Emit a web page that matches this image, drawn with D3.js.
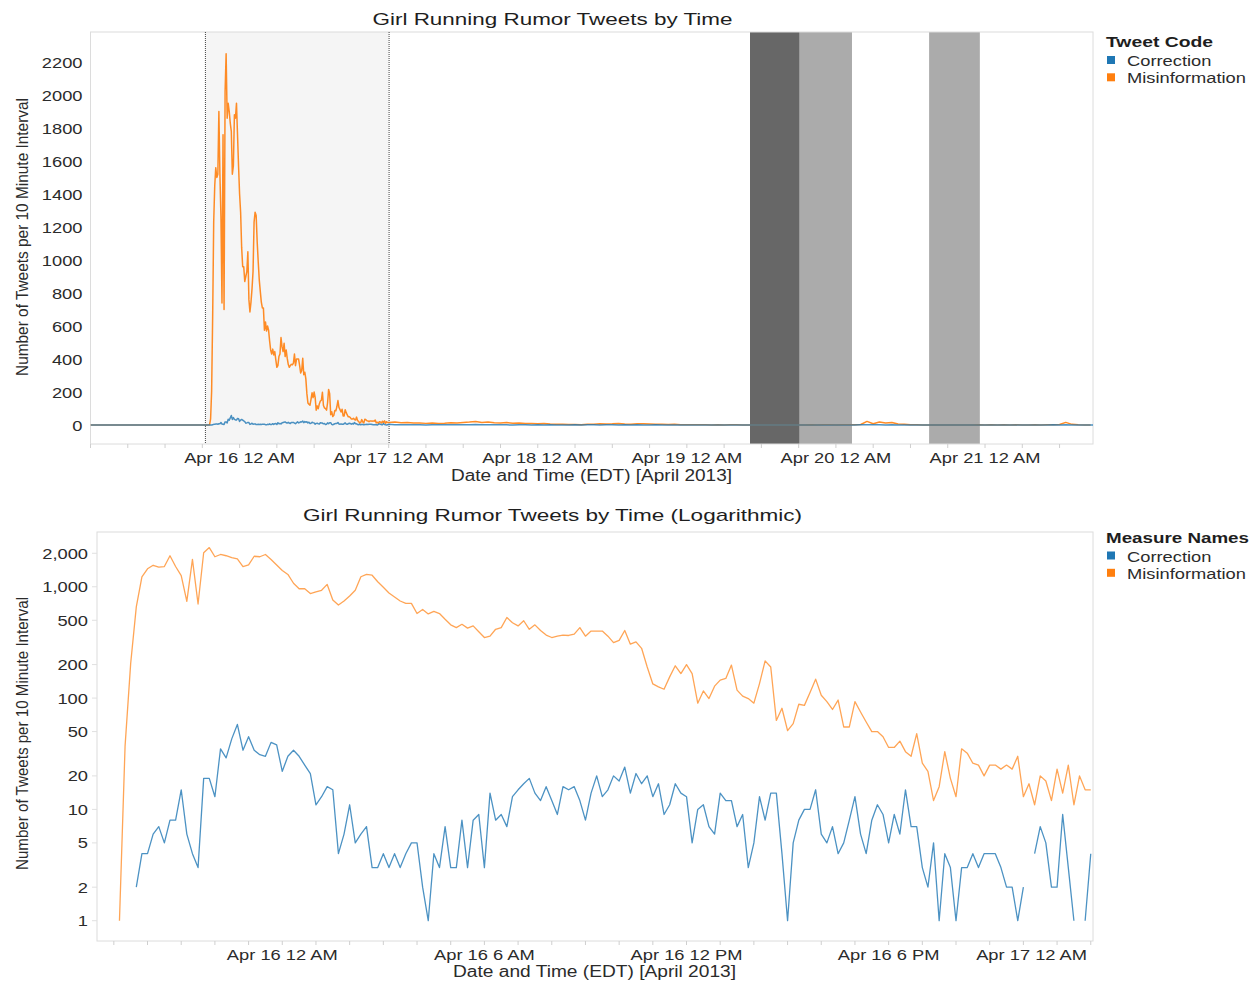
<!DOCTYPE html>
<html lang="en">
<head>
<meta charset="utf-8">
<title>Girl Running Rumor Tweets by Time</title>
<script src="https://d3js.org/d3.v7.min.js"></script>
<style>
    body { margin: 0; background: #ffffff; }
    text { font-family: "Liberation Sans", Arial, sans-serif; }
</style>
</head>
<body>
<div id="mainDiv"></div>
<script>
const width = 1260
const height = 981
const T = (day, hour, minute = 0) => Date.UTC(2013, 3, day, hour, minute) // EDT wall clock

// 10 minute counts, Apr 15 7:10 PM through Apr 17 12:00 AM
const detailStart = T(15, 19, 10)
const misinformation = [
    1, 37, 205, 660, 1230, 1450, 1560, 1500, 1520, 1900,
    1520, 1260, 740, 1760, 700, 2020, 2250, 1860, 1950, 1900,
    1830, 1780, 1520, 1570, 1880, 1860, 1950, 1760, 1570, 1400,
    1290, 1075, 960, 960, 870, 900, 930, 1050, 760, 685,
    745, 825, 930, 1230, 1290, 1270, 1110, 990, 880, 810,
    745, 710, 710, 575, 625, 570, 600, 575, 510, 455,
    430, 460, 425, 445, 395, 350, 360, 415, 430, 530,
    475, 445, 495, 415, 455, 405, 368, 350, 360, 368,
    365, 375, 430, 360, 400, 400, 400, 360, 315, 330,
    405, 305, 320, 280, 190, 134, 126, 120, 155, 195,
    166, 200, 166, 90, 116, 99, 128, 145, 150, 198,
    118, 104, 99, 90, 135, 216, 190, 63, 81, 51,
    59, 88, 86, 112, 148, 106, 93, 79, 96, 55,
    55, 93, 75, 61, 50, 50, 45, 36, 36, 41,
    33, 30, 48, 26, 22, 12, 16, 33, 19, 13,
    35, 32, 26, 25, 20, 25, 25, 23, 25, 23,
    30, 13, 17, 11, 20, 18, 12, 23, 14, 25,
    11, 20, 15, 15
]
const correction = [
    null, null, null, 2, 4, 4, 6, 7, 5, 8,
    8, 15, 6, 4, 3, 19, 19, 13, 35, 29,
    43, 58, 34, 45, 34, 31, 30, 40, 38, 22,
    30, 34, 30, 25, 21, 11, 13, 16, 15, 4,
    6, 11, 5, 6, 7, 3, 3, 4, 3, 4,
    3, 4, 5, 5, 2, 1, 4, 3, 7, 3,
    3, 8, 3, 8, 9, 3, 14, 8, 9, 7,
    13, 15, 17, 19, 14, 12, 16, 12, 9, 16,
    15, 16, 12, 8, 14, 20, 13, 15, 20, 18,
    24, 14, 21, 17, 20, 13, 17, 9, 11, 17,
    14, 13, 5, 10, 11, 7, 6, 14, 12, 12,
    7, 9, 3, 5, 13, 8, 14, 14, 4, 1,
    5, 8, 10, 10, 15, 6, 5, 7, 4, 5,
    8, 13, 6, 4, 8, 11, 9, 5, 9, 6,
    15, 7, 7, 3, 2, 5, 1, 4, 3, 1,
    3, 3, 4, 3, 4, 4, 4, 3, 2, 2,
    1, 2, null, 4, 7, 5, 2, 2, 9, 3,
    1, null, 1, 4
]

// hourly readings after the detail window, Apr 17 1 AM through Apr 21 5 PM
const tailStart = T(17, 1)
const misinformationTail = [
    18, 14, 16, 12, 13, 10, 12, 9, 11, 14, 12, 15, 18, 22, 16, 19, 14, 12, 15, 11, 13, 9, 10,
    8, 9, 6, 5, 4, 3, 3, 2, 4, 5, 8, 6, 7, 9, 6, 5, 8, 7, 6, 4, 5, 3, 4, 2,
    2, 1, 2, 1, 0, 1, 0, 2, 1, 0, 0, 0, 0, 0, 0, 0, 0, 0, 0, 0, 1, 0, 2, 1,
    0, 1, 2, 1, 3, 22, 8, 18, 12, 15, 6, 4, 2, 1, 0, 0, 0, 0, 0, 0, 0, 0, 0, 1,
    0, 1, 0, 2, 0, 1, 0, 0, 1, 0, 2, 1, 3, 16, 4, 1, 0, 0
]
const correctionTail = [
    2, 1, 1, 2, 1, 0, 1, 1, 2, 1, 1, 2, 2, 3, 2, 1, 2, 1, 1, 0, 1, 1, 0,
    1, 0, 1, 0, 0, 0, 1, 0, 1, 1, 0, 1, 1, 0, 1, 0, 1, 0, 0, 1, 0, 0, 0, 0,
    0, 0, 0, 0, 0, 0, 0, 0, 0, 0, 0, 0, 0, 0, 0, 0, 0, 0, 0, 0, 0, 0, 0, 0,
    0, 0, 0, 0, 1, 2, 1, 1, 0, 1, 0, 0, 0, 0, 0, 0, 0, 0, 0, 0, 0, 0, 0, 0,
    0, 0, 0, 0, 0, 0, 0, 0, 0, 0, 0, 1, 0, 1, 0, 0, 0, 0
]

const seriesNames = ['Correction', 'Misinformation']
const seriesColors = ['#1f77b4', '#ff7f0e']

const linearTicks = [0, 200, 400, 600, 800, 1000, 1200, 1400, 1600, 1800, 2000, 2200]
const logTicks = [1, 2, 5, 10, 20, 50, 100, 200, 500, 1000, 2000]

// shaded periods on the overview chart
const bands = [
    { start: T(19, 10, 10), end: T(19, 18, 10), kind: 'dark' },
    { start: T(19, 18, 10), end: T(20, 2, 35), kind: 'light' },
    { start: T(20, 15, 0), end: T(20, 23, 10), kind: 'light' }
]
const bandFill = { dark: '#676767', light: '#ababab' }

const overviewDomain = [T(15, 0), T(21, 17, 23)]
const detailDomain = [T(15, 18, 30), T(17, 0, 4)]

const stretch = 1.18
const fmtTime = d3.utcFormat('%b %-d %-I %p')

const svg = d3.select('#mainDiv').append('svg')
    .attr('width', width)
    .attr('height', height)

// ---------- build point lists ----------
const tenMin = 10 * 60 * 1000
const oneHour = 60 * 60 * 1000
function detailSeries(values) {
    return values.map((v, i) => ({ t: new Date(detailStart + i * tenMin), v }))
}
function tailSeries(values) {
    return values.map((v, i) => ({ t: new Date(tailStart + i * oneHour), v }))
}
const detailData = [detailSeries(correction), detailSeries(misinformation)]
const overviewData = [
    [{ t: new Date(overviewDomain[0]), v: 0 }]
        .concat(detailSeries(correction).map(d => ({ t: d.t, v: d.v == null ? 0 : d.v })))
        .concat(tailSeries(correctionTail))
        .concat([{ t: new Date(overviewDomain[1]), v: 0 }]),
    [{ t: new Date(overviewDomain[0]), v: 0 }, { t: new Date(detailStart - tenMin), v: 0 }]
        .concat(detailSeries(misinformation))
        .concat(tailSeries(misinformationTail))
]

// ---------- overview (linear) ----------
const ov = { left: 90.5, right: 1093, top: 32, bottom: 444 }
const x1 = d3.scaleUtc().domain(overviewDomain).range([ov.left, ov.right])
const y1 = d3.scaleLinear().domain([-115, 2382]).range([ov.bottom, ov.top])

const g1 = svg.append('g')
svg.append('clipPath').attr('id', 'clipTop').append('rect')
    .attr('x', ov.left).attr('y', ov.top)
    .attr('width', ov.right - ov.left).attr('height', ov.bottom - ov.top)

g1.append('rect')
    .attr('x', x1(detailDomain[0])).attr('y', ov.top)
    .attr('width', x1(detailDomain[1]) - x1(detailDomain[0]))
    .attr('height', ov.bottom - ov.top)
    .attr('fill', '#f5f5f5')

g1.selectAll('rect.band')
    .data(bands)
    .enter()
    .append('rect')
    .attr('class', 'band')
    .attr('x', d => x1(d.start)).attr('y', ov.top)
    .attr('width', d => x1(d.end) - x1(d.start))
    .attr('height', ov.bottom - ov.top)
    .attr('fill', d => bandFill[d.kind])

g1.append('rect')
    .attr('x', ov.left).attr('y', ov.top)
    .attr('width', ov.right - ov.left).attr('height', ov.bottom - ov.top)
    .attr('fill', 'none').attr('stroke', '#dcdcdc')

g1.selectAll('line.window')
    .data(detailDomain)
    .enter()
    .append('line')
    .attr('class', 'window')
    .attr('x1', d => x1(d)).attr('x2', d => x1(d))
    .attr('y1', ov.top).attr('y2', ov.bottom)
    .attr('stroke', '#444').attr('stroke-width', 1)
    .attr('stroke-dasharray', '1,1')

// x ticks every 6 hours, labels at midnight
const topTicks = d3.utcHour.every(6).range(new Date(overviewDomain[0]), new Date(overviewDomain[1]))
g1.selectAll('line.xtick')
    .data(topTicks)
    .enter()
    .append('line')
    .attr('x1', d => x1(d)).attr('x2', d => x1(d))
    .attr('y1', ov.bottom).attr('y2', ov.bottom + 4)
    .attr('stroke', '#cfcfcf')
g1.selectAll('text.xlab')
    .data(topTicks.filter(d => d.getUTCHours() === 0 && +d > overviewDomain[0]))
    .enter()
    .append('text')
    .attr('class', 'st')
    .attr('x', d => x1(d)).attr('y', ov.bottom + 19)
    .attr('text-anchor', 'middle')
    .attr('font-size', 15.5).attr('fill', '#2b2b2b')
    .text(d => fmtTime(d))

g1.selectAll('text.ylab')
    .data(linearTicks)
    .enter()
    .append('text')
    .attr('class', 'st')
    .attr('x', ov.left - 8).attr('y', d => y1(d) + 5.5)
    .attr('text-anchor', 'end')
    .attr('font-size', 15.5).attr('fill', '#2b2b2b')
    .text(d => d)

const line1 = d3.line().x(d => x1(d.t)).y(d => y1(d.v))
g1.selectAll('path.series')
    .data([1, 0])
    .enter()
    .append('path')
    .attr('clip-path', 'url(#clipTop)')
    .attr('d', k => line1(overviewData[k]))
    .attr('fill', 'none')
    .attr('stroke', k => seriesColors[k])
    .attr('stroke-width', 1.5)
    .attr('stroke-opacity', k => k === 0 ? 0.8 : 0.9)
    .attr('stroke-linejoin', 'round')

// ---------- detail (logarithmic) ----------
const dt = { left: 97, right: 1093, top: 532, bottom: 941 }
const x2 = d3.scaleUtc().domain(detailDomain).range([dt.left, dt.right])
const y2 = d3.scaleLog().domain([0.657, 3105]).range([dt.bottom, dt.top])

const g2 = svg.append('g')
svg.append('clipPath').attr('id', 'clipBot').append('rect')
    .attr('x', dt.left).attr('y', dt.top)
    .attr('width', dt.right - dt.left).attr('height', dt.bottom - dt.top)

g2.append('rect')
    .attr('x', dt.left).attr('y', dt.top)
    .attr('width', dt.right - dt.left).attr('height', dt.bottom - dt.top)
    .attr('fill', 'none').attr('stroke', '#dcdcdc')

const botTicks = d3.utcHour.every(1).range(new Date(detailDomain[0]), new Date(detailDomain[1]))
g2.selectAll('line.xtick')
    .data(botTicks)
    .enter()
    .append('line')
    .attr('x1', d => x2(d)).attr('x2', d => x2(d))
    .attr('y1', dt.bottom).attr('y2', dt.bottom + 4)
    .attr('stroke', '#cfcfcf')
g2.selectAll('text.xlab')
    .data(botTicks.filter(d => d.getUTCHours() % 6 === 0))
    .enter()
    .append('text')
    .attr('class', 'st xfit')
    .attr('x', d => x2(d)).attr('y', dt.bottom + 19)
    .attr('text-anchor', 'middle')
    .attr('font-size', 15.5).attr('fill', '#2b2b2b')
    .text(d => fmtTime(d))

g2.selectAll('line.ytick')
    .data(logTicks)
    .enter()
    .append('line')
    .attr('x1', dt.left - 5).attr('x2', dt.left)
    .attr('y1', d => y2(d)).attr('y2', d => y2(d))
    .attr('stroke', '#e0e0e0')
g2.selectAll('text.ylab')
    .data(logTicks)
    .enter()
    .append('text')
    .attr('class', 'st')
    .attr('x', dt.left - 9).attr('y', d => y2(d) + 5.5)
    .attr('text-anchor', 'end')
    .attr('font-size', 15.5).attr('fill', '#2b2b2b')
    .text(d => d3.format(',')(d))

const line2 = d3.line()
    .defined(d => d.v != null && d.v > 0)
    .x(d => x2(d.t)).y(d => y2(d.v))
g2.selectAll('path.series')
    .data([1, 0])
    .enter()
    .append('path')
    .attr('clip-path', 'url(#clipBot)')
    .attr('d', k => line2(detailData[k]))
    .attr('fill', 'none')
    .attr('stroke', k => seriesColors[k])
    .attr('stroke-width', 1.3)
    .attr('stroke-opacity', k => k === 0 ? 0.8 : 0.7)
    .attr('stroke-linejoin', 'round')

// ---------- titles ----------
function fixedText(x, y, str, len, opts = {}) {
    const t = svg.append('text')
        .attr('x', x).attr('y', y)
        .attr('text-anchor', opts.anchor || 'middle')
        .attr('font-size', opts.size || 17)
        .attr('font-weight', opts.bold ? 'bold' : null)
        .attr('fill', opts.fill || '#1e1e1e')
        .attr('textLength', len)
        .attr('lengthAdjust', 'spacingAndGlyphs')
        .text(str)
    if (opts.rotate) t.attr('transform', `rotate(-90, ${x}, ${y})`)
    return t
}
fixedText(552.5, 25, 'Girl Running Rumor Tweets by Time', 360)
fixedText(552.5, 521, 'Girl Running Rumor Tweets by Time (Logarithmic)', 499)
fixedText(591.5, 481, 'Date and Time (EDT) [April 2013]', 281, { size: 16, fill: '#2b2b2b' })
fixedText(594.5, 977, 'Date and Time (EDT) [April 2013]', 283, { size: 16, fill: '#2b2b2b' })
fixedText(28, 237, 'Number of Tweets per 10 Minute Interval', 278, { size: 17, fill: '#2b2b2b', rotate: true })
fixedText(28, 733.5, 'Number of Tweets per 10 Minute Interval', 273, { size: 17, fill: '#2b2b2b', rotate: true })

// ---------- legends ----------
function legend(yTitle, title, titleLen) {
    fixedText(1106, yTitle, title, titleLen, { anchor: 'start', size: 15.5, bold: true, fill: '#1e1e1e' })
    const item = svg.append('g').selectAll('g')
        .data(seriesNames)
        .enter()
        .append('g')
    item.append('rect')
        .attr('x', 1107).attr('y', (d, i) => yTitle + 9 + i * 17.3)
        .attr('width', 8).attr('height', 8)
        .attr('fill', (d, i) => seriesColors[i])
    item.append('text')
        .attr('class', 'st')
        .attr('x', 1127).attr('y', (d, i) => yTitle + 19 + i * 17.3)
        .attr('font-size', 15.5).attr('fill', '#2b2b2b')
        .text(d => d)
}
legend(47, 'Tweet Code', 107)
legend(542.5, 'Measure Names', 143)

// widen ordinary labels to the reference's letter width
svg.selectAll('text.st').each(function () {
    const w = this.getComputedTextLength()
    d3.select(this).attr('textLength', w * stretch).attr('lengthAdjust', 'spacingAndGlyphs')
})
// keep the last time label inside the plot
svg.selectAll('text.xfit').each(function () {
    const el = d3.select(this)
    const w = +el.attr('textLength')
    const x = +el.attr('x')
    if (x + w / 2 > dt.right - 5) el.attr('x', dt.right - 6).attr('text-anchor', 'end')
})
</script>
</body>
</html>
